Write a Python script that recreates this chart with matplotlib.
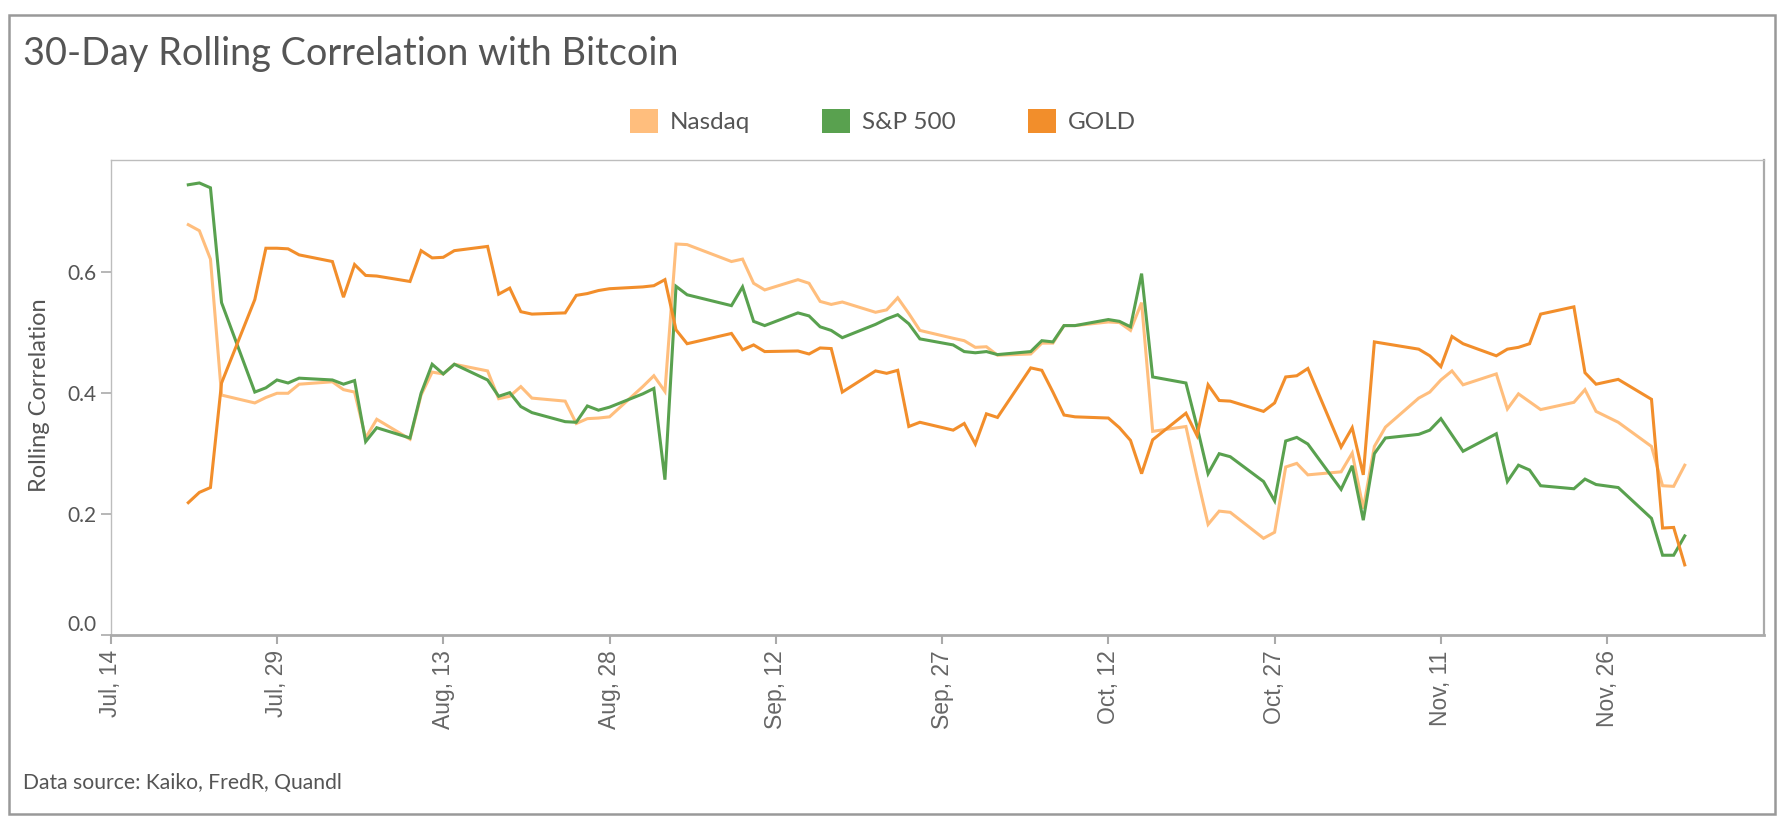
import pandas as pd
import matplotlib
matplotlib.use("Agg")
import matplotlib.pyplot as plt
import matplotlib.dates as mdates
from matplotlib.patches import Patch, Rectangle
from matplotlib.transforms import ScaledTranslation

# trading days (weekdays, minus Labor Day and Thanksgiving)
dates = pd.bdate_range("2020-07-21", "2020-12-03")
dates = dates[~dates.isin(pd.to_datetime(["2020-09-07", "2020-11-26"]))]

nasdaq = [
    0.679, 0.669, 0.622, 0.397,
    0.384, 0.393, 0.400, 0.400, 0.415,
    0.419, 0.406, 0.402, 0.326, 0.357,
    0.324, 0.397, 0.435, 0.432, 0.448,
    0.437, 0.391, 0.395, 0.411, 0.392,
    0.387, 0.350, 0.358, 0.359, 0.361,
    0.411, 0.429, 0.403, 0.647, 0.646,
    0.618, 0.622, 0.582, 0.571,
    0.588, 0.582, 0.552, 0.547, 0.551,
    0.534, 0.538, 0.558, 0.532, 0.504,
    0.491, 0.487, 0.476, 0.477, 0.463,
    0.465, 0.483, 0.483, 0.512, 0.512,
    0.518, 0.517, 0.504, 0.550, 0.337,
    0.345, 0.262, 0.183, 0.205, 0.203,
    0.160, 0.170, 0.278, 0.284, 0.265,
    0.270, 0.301, 0.209, 0.312, 0.344,
    0.392, 0.402, 0.422, 0.437, 0.414,
    0.432, 0.374, 0.399, 0.386, 0.373,
    0.385, 0.406, 0.370, 0.352,
    0.312, 0.247, 0.246, 0.281,
]

sp500 = [
    0.745, 0.748, 0.740, 0.550,
    0.402, 0.409, 0.422, 0.417, 0.425,
    0.422, 0.415, 0.421, 0.320, 0.343,
    0.326, 0.400, 0.448, 0.432, 0.448,
    0.422, 0.395, 0.401, 0.378, 0.368,
    0.353, 0.352, 0.379, 0.372, 0.377,
    0.399, 0.408, 0.257, 0.577, 0.563,
    0.545, 0.576, 0.519, 0.512,
    0.533, 0.528, 0.510, 0.504, 0.492,
    0.514, 0.523, 0.530, 0.515, 0.490,
    0.480, 0.469, 0.467, 0.469, 0.464,
    0.469, 0.487, 0.485, 0.512, 0.512,
    0.522, 0.519, 0.510, 0.598, 0.427,
    0.417, 0.345, 0.267, 0.300, 0.295,
    0.254, 0.222, 0.321, 0.327, 0.316,
    0.241, 0.280, 0.190, 0.300, 0.326,
    0.332, 0.339, 0.358, 0.331, 0.304,
    0.333, 0.254, 0.281, 0.273, 0.247,
    0.242, 0.258, 0.249, 0.244,
    0.193, 0.132, 0.132, 0.164,
]

gold = [
    0.219, 0.236, 0.244, 0.417,
    0.555, 0.640, 0.640, 0.639, 0.629,
    0.618, 0.559, 0.613, 0.595, 0.594,
    0.585, 0.636, 0.624, 0.625, 0.636,
    0.643, 0.564, 0.574, 0.535, 0.531,
    0.533, 0.562, 0.565, 0.570, 0.573,
    0.576, 0.578, 0.588, 0.505, 0.482,
    0.499, 0.472, 0.480, 0.469,
    0.470, 0.465, 0.475, 0.474, 0.402,
    0.437, 0.433, 0.438, 0.345, 0.352,
    0.339, 0.350, 0.316, 0.366, 0.360,
    0.442, 0.438, 0.402, 0.364, 0.361,
    0.359, 0.343, 0.322, 0.267, 0.323,
    0.367, 0.330, 0.414, 0.388, 0.387,
    0.370, 0.384, 0.427, 0.429, 0.441,
    0.311, 0.343, 0.265, 0.485, 0.482,
    0.473, 0.462, 0.444, 0.494, 0.482,
    0.462, 0.473, 0.476, 0.482, 0.531,
    0.543, 0.434, 0.415, 0.423,
    0.390, 0.177, 0.178, 0.116,
]

series_names = ["Nasdaq", "S&P 500", "GOLD"]
colors = ["#ffbe7d", "#59a14f", "#f28e2b"]

x_ticks = pd.date_range("2020-07-14", periods=10, freq="15D")
y_ticks = [0.0, 0.2, 0.4, 0.6]

W, H = 1784, 822
fig = plt.figure(figsize=(W / 100, H / 100), dpi=100)
text_color = "#555555"

# outer frame
fig.patches.append(Rectangle((9 / W, 1 - 814 / H), (1775 - 9) / W, (814 - 15) / H,
                             transform=fig.transFigure, fill=False,
                             edgecolor="#999999", linewidth=1.8))

ax = fig.add_axes([110.7 / W, 1 - 635 / H, (1764 - 110.7) / W, (635 - 160) / H])

for vals, name, c in zip([nasdaq, sp500, gold], series_names, colors):
    ax.plot(dates, vals, color=c, linewidth=2.2, label=name, solid_joinstyle="miter")

ax.set_xlim(pd.Timestamp("2020-07-14"), pd.Timestamp("2020-07-14") + pd.Timedelta(days=149.15))
ax.set_ylim(0, 0.786)

ax.set_yticks(y_ticks)
ax.set_yticklabels([f"{v:.1f}" for v in y_ticks], family="Lato", fontsize=15, color=text_color)
first = ax.get_yticklabels()[0]
first.set_va("bottom")
first.set_transform(first.get_transform() + ScaledTranslation(0, 0.08, fig.dpi_scale_trans))
ax.tick_params(axis="y", length=7, width=1.2, color="#aaaaaa", pad=3)

ax.set_xticks(x_ticks)
ax.xaxis.set_major_formatter(mdates.DateFormatter("%b, %d"))
for lbl in ax.get_xticklabels():
    lbl.set_rotation(90)
    lbl.set_family("Liberation Sans")
    lbl.set_fontsize(16.5)
    lbl.set_color("#666666")
    lbl.set_ha("center")
    lbl.set_va("top")
ax.tick_params(axis="x", length=6.5, width=1.5, color="#aaaaaa", pad=4.5)

for side in ["left", "top"]:
    ax.spines[side].set_color("#bdbdbd")
    ax.spines[side].set_linewidth(1.0)
ax.spines["right"].set_color("#aaaaaa")
ax.spines["right"].set_linewidth(1.6)
ax.spines["bottom"].set_color("#aaaaaa")
ax.spines["bottom"].set_linewidth(2.0)

fig.text(40 / W, 1 - 395 / H, "Rolling Correlation", rotation=90, ha="center", va="center",
         family="Lato", fontsize=17, color=text_color)

fig.text(23 / W, 1 - 65 / H, "30-Day Rolling Correlation with Bitcoin", ha="left", va="baseline",
         family="Lato", fontsize=27.3, color=text_color)

fig.text(23 / W, 1 - 789 / H, "Data source: Kaiko, FredR, Quandl", ha="left", va="baseline",
         family="Lato", fontsize=15.2, color=text_color)

handles = [Patch(facecolor=c, edgecolor="none", label=n) for n, c in zip(series_names, colors)]
leg = fig.legend(handles=handles, loc="center left", bbox_to_anchor=(630 / W, 1 - 121 / H),
                 ncol=3, frameon=False, borderpad=0, borderaxespad=0,
                 handlelength=1.15, handleheight=1.15, handletextpad=0.5,
                 columnspacing=2.95, prop={"family": "Lato", "size": 17.5})
for t in leg.get_texts():
    t.set_color(text_color)

fig.savefig("out.png", dpi=100)
